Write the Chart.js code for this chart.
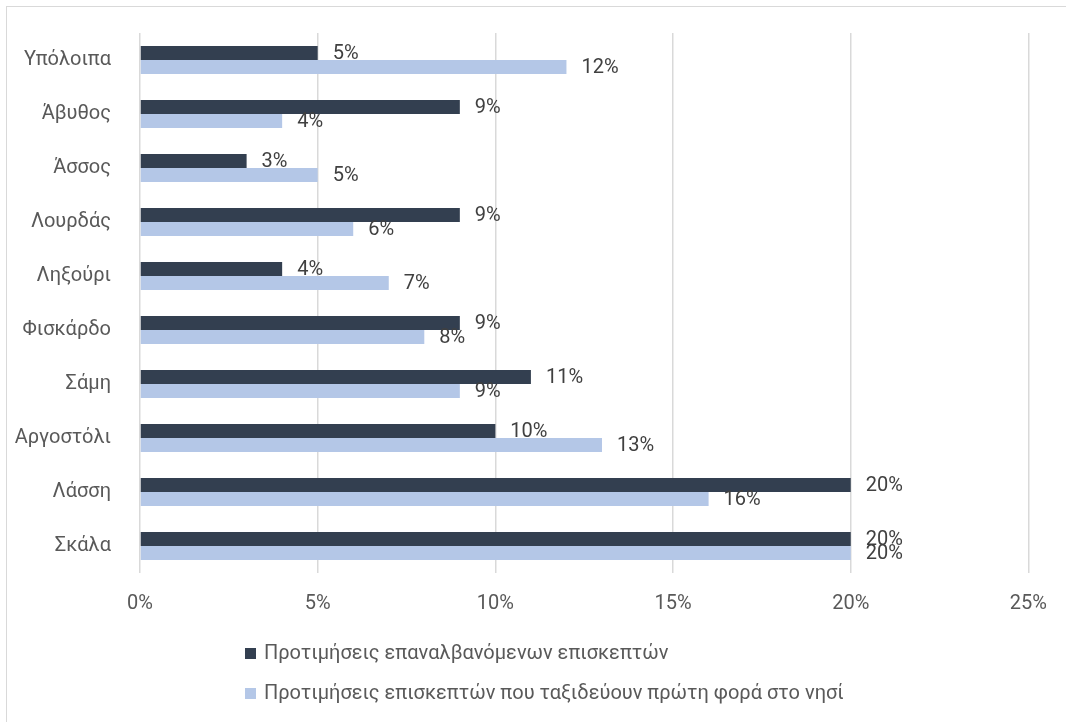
<!DOCTYPE html>
<html>
<head>
<meta charset="utf-8">
<script src="https://cdn.jsdelivr.net/npm/chart.js"></script>
<style type="text/css">
  html, body{
    margin: 0;
    padding: 0;
    background: #fff;
  }
  #frame{
    position: absolute;
    left: 6px;
    top: 6px;
    width: 1100px;
    height: 760px;
    border-left: 1px solid #d9d9d9;
    border-top: 1px solid #d9d9d9;
  }
  #wrap{
    position: absolute;
    left: 0;
    top: 0;
    width: 1066px;
    height: 722px;
  }
  #legend{
    position: absolute;
    left: 245px;
    top: 638px;
    font-family: Roboto, "Noto Sans", sans-serif;
    font-size: 20px;
    color: #595959;
  }
  #legend div{
    height: 40px;
    line-height: 28px;
    white-space: nowrap;
  }
  #legend span.box{
    display: inline-block;
    width: 11px;
    height: 11px;
    margin-right: 8px;
    vertical-align: 0px;
  }
</style>
</head>
<body>
<div id="frame"></div>
<div id="wrap"><canvas id="chart"></canvas></div>
<div id="legend"></div>

<script>
  const categories = ['Υπόλοιπα', 'Άβυθος', 'Άσσος', 'Λουρδάς', 'Ληξούρι', 'Φισκάρδο', 'Σάμη', 'Αργοστόλι', 'Λάσση', 'Σκάλα'];
  const repeatVisitors = [5, 9, 3, 9, 4, 9, 11, 10, 20, 20];
  const firstTimeVisitors = [12, 4, 5, 6, 7, 8, 9, 13, 16, 20];
  const seriesNames = ['Προτιμήσεις επαναλβανόμενων επισκεπτών', 'Προτιμήσεις επισκεπτών που ταξιδεύουν πρώτη φορά στο νησί'];
  const xTicks = [0, 5, 10, 15, 20, 25];

  const colors = ['#333f50', '#b4c7e7'];
  const font = 'Roboto, "Noto Sans", sans-serif';

  // value labels next to each bar end
  const valueLabels = {
    id: 'valueLabels',
    afterDatasetsDraw(chart){
      const ctx = chart.ctx;
      ctx.save();
      ctx.font = '20px ' + font;
      ctx.fillStyle = '#404040';
      ctx.textAlign = 'left';
      ctx.textBaseline = 'middle';
      chart.data.datasets.forEach((ds, i) => {
        chart.getDatasetMeta(i).data.forEach((bar, j) => {
          ctx.fillText(ds.data[j] + '%', bar.x + 15, bar.y + 1);
        });
      });
      ctx.restore();
    }
  };

  new Chart(document.getElementById('chart'), {
    type: 'bar',
    data: {
      labels: categories,
      datasets: [
        {label: seriesNames[0], data: repeatVisitors, backgroundColor: colors[0]},
        {label: seriesNames[1], data: firstTimeVisitors, backgroundColor: colors[1]}
      ]
    },
    options: {
      indexAxis: 'y',
      responsive: true,
      maintainAspectRatio: false,
      animation: false,
      categoryPercentage: 0.52,
      barPercentage: 1,
      layout: {
        padding: {top: 33, right: 37, bottom: 109, left: 0}
      },
      plugins: {
        legend: {display: false},
        tooltip: {enabled: false}
      },
      scales: {
        x: {
          min: xTicks[0],
          max: xTicks[xTicks.length - 1],
          afterBuildTicks: (axis) => { axis.ticks = xTicks.map(v => ({value: v})); },
          afterFit: (axis) => { axis.height = 40; },
          grid: {color: '#d9d9d9', lineWidth: 1.5, drawTicks: false},
          border: {display: false},
          ticks: {
            padding: 19,
            color: '#595959',
            font: {family: font, size: 20},
            callback: (v) => v + '%'
          }
        },
        y: {
          afterFit: (axis) => { axis.width = 140; },
          grid: {display: false},
          border: {display: false},
          ticks: {
            padding: 21,
            color: '#595959',
            font: {family: font, size: 20}
          }
        }
      }
    },
    plugins: [valueLabels]
  });

  const legend = document.getElementById('legend');
  seriesNames.forEach((name, i) => {
    const row = document.createElement('div');
    row.innerHTML = '<span class="box" style="background:' + colors[i] + '"></span>' + name;
    legend.appendChild(row);
  });
</script>
</body>
</html>
